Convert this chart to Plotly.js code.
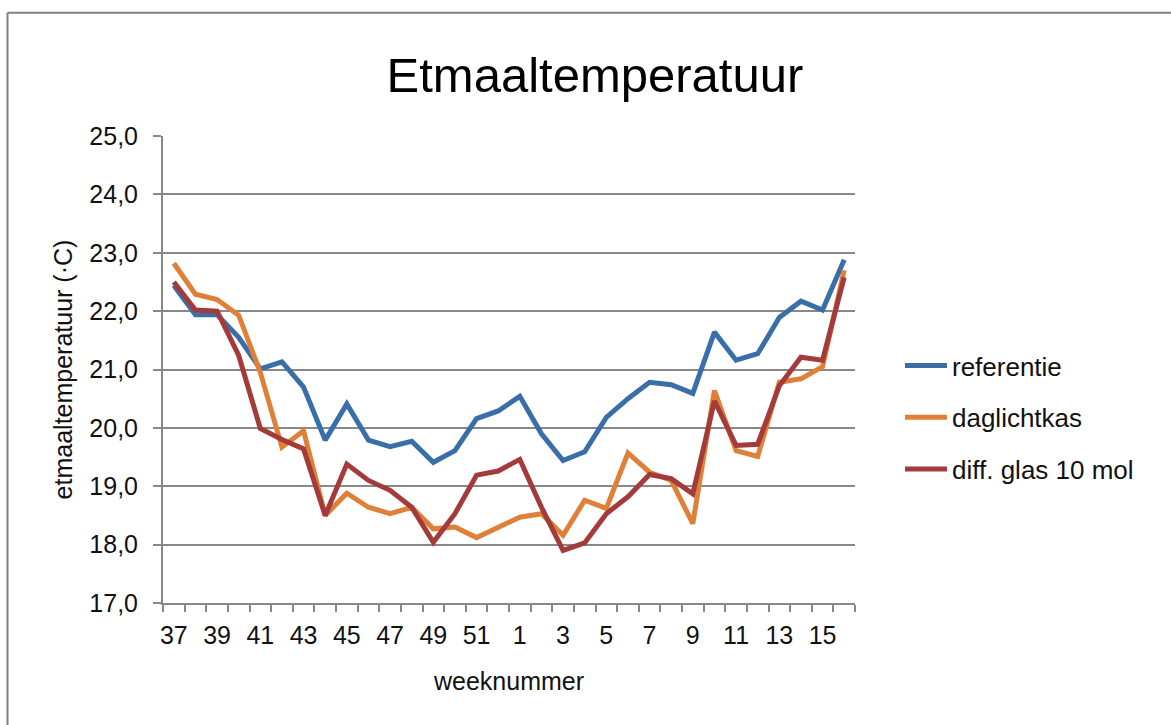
<!DOCTYPE html>
<html>
<head>
<meta charset="utf-8">
<script src="https://cdn.plot.ly/plotly-3.0.1.min.js"></script>
<style>
html,body{margin:0;padding:0;background:#fff;}
#chart{width:1171px;height:725px;}
</style>
</head>
<body>
<div id="chart"></div>
<script>
const weeks = ['37','38','39','40','41','42','43','44','45','46','47','48','49','50','51','52',
               '1','2','3','4','5','6','7','8','9','10','11','12','13','14','15','16'];
const xTickText = ['37','','39','','41','','43','','45','','47','','49','','51','',
                   '1','','3','','5','','7','','9','','11','','13','','15',''];
const referentie = [22.44,21.94,21.94,21.55,21.01,21.13,20.70,19.79,20.41,19.79,19.68,19.77,19.41,19.61,20.16,20.29,
                    20.54,19.90,19.44,19.59,20.18,20.50,20.78,20.74,20.59,21.64,21.16,21.27,21.89,22.17,22.02,22.88];
const daglichtkas = [22.82,22.29,22.20,21.93,20.95,19.67,19.95,18.50,18.88,18.64,18.53,18.64,18.27,18.30,18.12,18.30,
                     18.47,18.53,18.16,18.76,18.62,19.57,19.24,19.10,18.36,20.64,19.61,19.51,20.78,20.84,21.05,22.70];
const diffGlas = [22.50,22.02,22.00,21.24,19.99,19.80,19.64,18.50,19.38,19.10,18.93,18.64,18.04,18.53,19.19,19.26,
                  19.46,18.64,17.90,18.03,18.53,18.82,19.20,19.13,18.87,20.46,19.70,19.72,20.72,21.21,21.16,22.58];
const seriesNames = ['referentie','daglichtkas','diff. glas 10 mol'];
const seriesColors = ['#3A6EA8','#E07F38','#A33B3B'];
const seriesValues = [referentie, daglichtkas, diffGlas];

const traces = seriesValues.map((vals, i) => ({
  x: weeks,
  y: vals,
  type: 'scatter',
  mode: 'lines',
  name: seriesNames[i],
  legendgroup: 'g' + i,
  line: {color: seriesColors[i], width: 5}
}));

const gridColor = '#888888';
const fontFam = 'Liberation Sans, Arial, Helvetica, sans-serif';

const layout = {
  width: 1171,
  height: 725,
  paper_bgcolor: '#ffffff',
  plot_bgcolor: '#ffffff',
  separators: ',.',
  font: {family: fontFam, color: '#111111', size: 25},
  margin: {l: 163, r: 316, t: 136, b: 122, pad: 0},
  title: {
    text: 'Etmaaltemperatuur',
    font: {family: fontFam, size: 49, color: '#000000'},
    x: 0.508, xref: 'container', xanchor: 'center',
    y: 0.897, yref: 'container', yanchor: 'middle'
  },
  xaxis: {
    type: 'category',
    categoryorder: 'array',
    categoryarray: weeks,
    tickmode: 'array',
    tickvals: weeks,
    ticktext: xTickText,
    tickson: 'boundaries',
    ticks: 'outside',
    ticklen: 7,
    tickwidth: 2,
    tickcolor: gridColor,
    showline: true,
    linecolor: gridColor,
    linewidth: 2,
    showgrid: false,
    zeroline: false,
    tickangle: 0,
    ticklabelstandoff: 9,
    tickfont: {size: 25, color: '#111111'},
    title: {text: 'weeknummer', font: {size: 25, color: '#111111'}, standoff: 24},
    range: [-0.5, 31.5]
  },
  yaxis: {
    range: [17, 25],
    tickmode: 'linear',
    tick0: 17,
    dtick: 1,
    tickformat: '.1f',
    ticks: 'outside',
    ticklen: 8,
    tickwidth: 2,
    tickcolor: gridColor,
    showline: true,
    linecolor: gridColor,
    linewidth: 2,
    showgrid: true,
    gridcolor: gridColor,
    gridwidth: 2,
    zeroline: false,
    tickfont: {size: 25, color: '#111111'},
    ticklabelstandoff: 10,
    title: {text: 'etmaaltemperatuur (·C)', font: {size: 25, color: '#111111'}, standoff: 10}
  },
  showlegend: true,
  legend: {
    x: 1.065, xanchor: 'left',
    y: 0.397, yanchor: 'middle',
    traceorder: 'grouped',
    tracegroupgap: 15,
    font: {size: 26, color: '#111111'},
    bgcolor: 'rgba(0,0,0,0)',
    itemwidth: 42
  },
  shapes: [
    {type: 'line', xref: 'paper', yref: 'paper', x0: -0.2247, x1: 1.46, y0: 1.264, y1: 1.264,
     line: {color: '#808080', width: 2}},
    {type: 'line', xref: 'paper', yref: 'paper', x0: -0.2247, x1: -0.2247, y0: -0.27, y1: 1.264,
     line: {color: '#808080', width: 2}}
  ]
};

Plotly.newPlot('chart', traces, layout, {displayModeBar: false, staticPlot: true});
</script>
</body>
</html>
